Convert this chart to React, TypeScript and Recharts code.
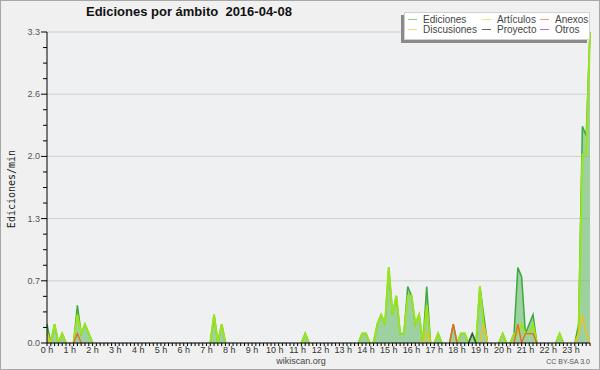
import React from "react";
import { ComposedChart, Area, Line, XAxis, YAxis, CartesianGrid } from "recharts";

// one slot per 10 minutes, 0 h .. 23:50
const slots = Array.from({ length: 144 }, (_, i) => i);

const hourLabels = [
  "0 h", "1 h", "2 h", "3 h", "4 h", "5 h", "6 h", "7 h", "8 h", "9 h", "10 h", "11 h",
  "12 h", "13 h", "14 h", "15 h", "16 h", "17 h", "18 h", "19 h", "20 h", "21 h", "22 h", "23 h",
];

const yMajor = [0, 0.66, 1.32, 1.98, 2.64, 3.3];
const yTicks = [
  0, 0.165, 0.33, 0.495, 0.66, 0.825, 0.99, 1.155, 1.32, 1.485, 1.65, 1.815, 1.98,
  2.145, 2.31, 2.475, 2.64, 2.805, 2.97, 3.135, 3.3,
];

// ediciones / min, rows of 2 hours
const ediciones = [
  0.2, 0, 0.2, 0, 0.1, 0, 0, 0, 0.4, 0.1, 0.2, 0.1,
  0, 0, 0, 0, 0, 0, 0, 0, 0, 0, 0, 0,
  0, 0, 0, 0, 0, 0, 0, 0, 0, 0, 0, 0,
  0, 0, 0, 0, 0, 0, 0, 0, 0.3, 0, 0.2, 0,
  0, 0, 0, 0, 0, 0, 0, 0, 0, 0, 0, 0,
  0, 0, 0, 0, 0, 0, 0, 0, 0.1, 0, 0, 0,
  0, 0, 0, 0, 0, 0, 0, 0, 0, 0, 0, 0.1,
  0.1, 0, 0, 0.2, 0.3, 0.2, 0.8, 0.3, 0.5, 0.1, 0.1, 0.6,
  0.5, 0.2, 0.3, 0, 0.6, 0, 0, 0.1, 0, 0, 0, 0.2,
  0, 0.1, 0.1, 0, 0.1, 0, 0.6, 0.3, 0, 0, 0, 0,
  0.1, 0, 0, 0.1, 0.8, 0.7, 0.1, 0.2, 0.3, 0, 0, 0,
  0, 0, 0, 0.1, 0, 0, 0, 0, 0.2, 2.3, 2.2, 3.3,
];

const articulos = [
  0.1, 0, 0.2, 0, 0.1, 0, 0, 0, 0.3, 0.1, 0.2, 0.1,
  0, 0, 0, 0, 0, 0, 0, 0, 0, 0, 0, 0,
  0, 0, 0, 0, 0, 0, 0, 0, 0, 0, 0, 0,
  0, 0, 0, 0, 0, 0, 0, 0, 0.3, 0, 0.2, 0,
  0, 0, 0, 0, 0, 0, 0, 0, 0, 0, 0, 0,
  0, 0, 0, 0, 0, 0, 0, 0, 0.1, 0, 0, 0,
  0, 0, 0, 0, 0, 0, 0, 0, 0, 0, 0, 0.1,
  0.1, 0, 0, 0.2, 0.3, 0.2, 0.8, 0.3, 0.5, 0.1, 0.1, 0.5,
  0.5, 0.2, 0.3, 0, 0.4, 0, 0, 0.1, 0, 0, 0, 0,
  0, 0.1, 0.1, 0, 0, 0, 0.6, 0.2, 0, 0, 0, 0,
  0.1, 0, 0, 0.1, 0.1, 0.2, 0.1, 0.1, 0.2, 0, 0, 0,
  0, 0, 0, 0.1, 0, 0, 0, 0, 0.1, 2.0, 2.0, 3.3,
];

const anexos = [
  0, 0, 0, 0, 0, 0, 0, 0, 0.1, 0, 0, 0,
  0, 0, 0, 0, 0, 0, 0, 0, 0, 0, 0, 0,
  0, 0, 0, 0, 0, 0, 0, 0, 0, 0, 0, 0,
  0, 0, 0, 0, 0, 0, 0, 0, 0, 0, 0, 0,
  0, 0, 0, 0, 0, 0, 0, 0, 0, 0, 0, 0,
  0, 0, 0, 0, 0, 0, 0, 0, 0, 0, 0, 0,
  0, 0, 0, 0, 0, 0, 0, 0, 0, 0, 0, 0,
  0, 0, 0, 0, 0, 0, 0, 0, 0, 0, 0, 0,
  0, 0, 0, 0, 0, 0, 0, 0, 0, 0, 0, 0.2,
  0, 0, 0, 0, 0, 0, 0, 0, 0, 0, 0, 0,
  0, 0, 0, 0, 0.2, 0, 0.1, 0.1, 0.1, 0, 0, 0,
  0, 0, 0, 0, 0, 0, 0, 0, 0, 0, 0, 0,
];

const discusiones = [
  0.1, 0, 0, 0, 0, 0, 0, 0, 0, 0, 0, 0,
  0, 0, 0, 0, 0, 0, 0, 0, 0, 0, 0, 0,
  0, 0, 0, 0, 0, 0, 0, 0, 0, 0, 0, 0,
  0, 0, 0, 0, 0, 0, 0, 0, 0, 0, 0, 0,
  0, 0, 0, 0, 0, 0, 0, 0, 0, 0, 0, 0,
  0, 0, 0, 0, 0, 0, 0, 0, 0, 0, 0, 0,
  0, 0, 0, 0, 0, 0, 0, 0, 0, 0, 0, 0,
  0, 0, 0, 0, 0, 0, 0, 0, 0, 0, 0, 0,
  0, 0, 0, 0, 0.1, 0, 0, 0, 0, 0, 0, 0,
  0, 0, 0, 0, 0, 0, 0, 0.2, 0, 0, 0, 0,
  0, 0, 0, 0, 0, 0, 0, 0, 0, 0, 0, 0,
  0, 0, 0, 0, 0, 0, 0, 0, 0.1, 0.3, 0.1, 0,
];

const proyecto = [
  0, 0, 0, 0, 0, 0, 0, 0, 0, 0, 0, 0,
  0, 0, 0, 0, 0, 0, 0, 0, 0, 0, 0, 0,
  0, 0, 0, 0, 0, 0, 0, 0, 0, 0, 0, 0,
  0, 0, 0, 0, 0, 0, 0, 0, 0, 0, 0, 0,
  0, 0, 0, 0, 0, 0, 0, 0, 0, 0, 0, 0,
  0, 0, 0, 0, 0, 0, 0, 0, 0, 0, 0, 0,
  0, 0, 0, 0, 0, 0, 0, 0, 0, 0, 0, 0,
  0, 0, 0, 0, 0, 0, 0, 0, 0, 0, 0, 0,
  0, 0, 0, 0, 0, 0, 0, 0, 0, 0, 0, 0,
  0, 0, 0, 0, 0.1, 0, 0, 0, 0, 0, 0, 0,
  0, 0, 0, 0, 0, 0, 0, 0, 0, 0, 0, 0,
  0, 0, 0, 0, 0, 0, 0, 0, 0, 0, 0, 0,
];

const otros = slots.map(() => 0);

// hide the flat stretches lying on the axis, keep the feet of each peak
const trim = (arr: number[]) =>
  arr.map((v, i) => (v === 0 && !(arr[i - 1] > 0) && !(arr[i + 1] > 0) ? null : v));

const rows = slots.map(i => ({
  i,
  ed: trim(ediciones)[i],
  ar: trim(articulos)[i],
  an: trim(anexos)[i],
  di: trim(discusiones)[i],
  pr: trim(proyecto)[i],
  ot: trim(otros)[i],
}));

const legendItems = [
  { name: "Ediciones", color: "#8fd08f", col: 0, row: 0 },
  { name: "Artículos", color: "#d4f07a", col: 1, row: 0 },
  { name: "Anexos", color: "#f0a070", col: 2, row: 0 },
  { name: "Discusiones", color: "#f2dc70", col: 0, row: 1 },
  { name: "Proyecto", color: "#666666", col: 1, row: 1 },
  { name: "Otros", color: "#a070f0", col: 2, row: 1 },
];
const legendCols = [408, 482, 540];

const XTick = (props: any) => {
  const { x, y, payload } = props;
  const v = payload.value as number;
  return (
    <g>
      <line x1={x} y1={y} x2={x} y2={y + 3} stroke="#000" />
      {v % 6 === 0 && (
        <text x={x} y={y + 10} textAnchor="middle" fontSize={9} fill="#333"
          fontFamily="Liberation Sans, Arial, sans-serif">
          {hourLabels[v / 6]}
        </text>
      )}
    </g>
  );
};

const YTick = (props: any) => {
  const { x, y, payload } = props;
  const v = payload.value as number;
  const major = yMajor.includes(v);
  return (
    <g>
      <line x1={x - (major ? 6 : 4)} y1={y} x2={x} y2={y} stroke="#000" />
      {major && (
        <text x={x - 7} y={y + 3} textAnchor="end" fontSize={9} fill="#555"
          fontFamily="Liberation Sans, Arial, sans-serif">
          {v.toFixed(1)}
        </text>
      )}
    </g>
  );
};

export default function App() {
  return (
    <div style={{ position: "relative", width: 600, height: 370, background: "#f0f0f0",
      border: "1px solid #a8a8a8", boxSizing: "border-box", fontFamily: "Liberation Sans, Arial, sans-serif" }}>
      <style>{"body{margin:0}"}</style>
      <div style={{ position: "absolute", left: 0, top: 0 }}>
        <ComposedChart width={598} height={368} data={rows}
          margin={{ top: 31, right: 9, bottom: 12, left: 0 }}>
          <CartesianGrid fill="#eef0f2" stroke="#cfcfcf" vertical={false} horizontalValues={yMajor} />
          <Area type="linear" dataKey="ed" stroke="#3da83d" strokeWidth={1.5} fill="#5cb85c"
            fillOpacity={0.55} isAnimationActive={false} dot={false} activeDot={false} />
          <Line type="linear" dataKey="ar" stroke="#9ae41c" strokeWidth={2} dot={false}
            isAnimationActive={false} activeDot={false} />
          <Line type="linear" dataKey="di" stroke="#f0c020" strokeWidth={1.4} dot={false}
            isAnimationActive={false} activeDot={false} />
          <Line type="linear" dataKey="an" stroke="#ec6a1c" strokeWidth={1.4} dot={false}
            isAnimationActive={false} activeDot={false} />
          <Line type="linear" dataKey="pr" stroke="#2f5a2f" strokeWidth={1.4} dot={false}
            isAnimationActive={false} activeDot={false} />
          <Line type="linear" dataKey="ot" stroke="#9955ee" strokeWidth={1.4} dot={false}
            isAnimationActive={false} activeDot={false} />
          <XAxis dataKey="i" type="number" domain={[0, 143]} ticks={slots} interval={0}
            tickSize={0} tickMargin={0} height={14} axisLine={{ stroke: "#000" }}
            tickLine={false} tick={<XTick />} />
          <YAxis type="number" domain={[0, 3.3]} ticks={yTicks} interval={0} width={46}
            tickSize={0} tickMargin={0} axisLine={{ stroke: "#000" }} tickLine={false}
            tick={<YTick />} allowDataOverflow />
        </ComposedChart>
      </div>

      <div style={{ position: "absolute", left: 85, top: 3, fontSize: 13, fontWeight: "bold",
        color: "#111", whiteSpace: "pre", lineHeight: "16px" }}>
        {"Ediciones por ámbito  2016-04-08"}
      </div>

      <div style={{ position: "absolute", left: 10, top: 188, width: 0, height: 0 }}>
        <div style={{ position: "absolute", transform: "translate(-50%,-50%) rotate(-90deg)",
          fontFamily: "DejaVu Sans Mono, monospace", fontSize: 10, color: "#222", whiteSpace: "nowrap" }}>
          Ediciones/min
        </div>
      </div>

      <div style={{ position: "absolute", left: 403, top: 11, width: 184, height: 26,
        background: "#fff", border: "1px solid #d0d0d0", boxShadow: "-3px 3px 0 #8a8a8a" }} />
      {legendItems.map(it => (
        <div key={it.name} style={{ position: "absolute", left: legendCols[it.col] - 1,
          top: 13 + it.row * 10, height: 11, display: "flex", alignItems: "center",
          fontSize: 10, color: "#444", lineHeight: "11px" }}>
          <span style={{ display: "inline-block", width: 9, height: 1, background: it.color,
            marginRight: 6 }} />
          {it.name}
        </div>
      ))}

      <div style={{ position: "absolute", left: 250, width: 100, top: 355, textAlign: "center",
        fontSize: 9, color: "#444" }}>wikiscan.org</div>
      <div style={{ position: "absolute", right: 9, top: 357, fontSize: 7, color: "#555" }}>
        CC BY-SA 3.0
      </div>
    </div>
  );
}
